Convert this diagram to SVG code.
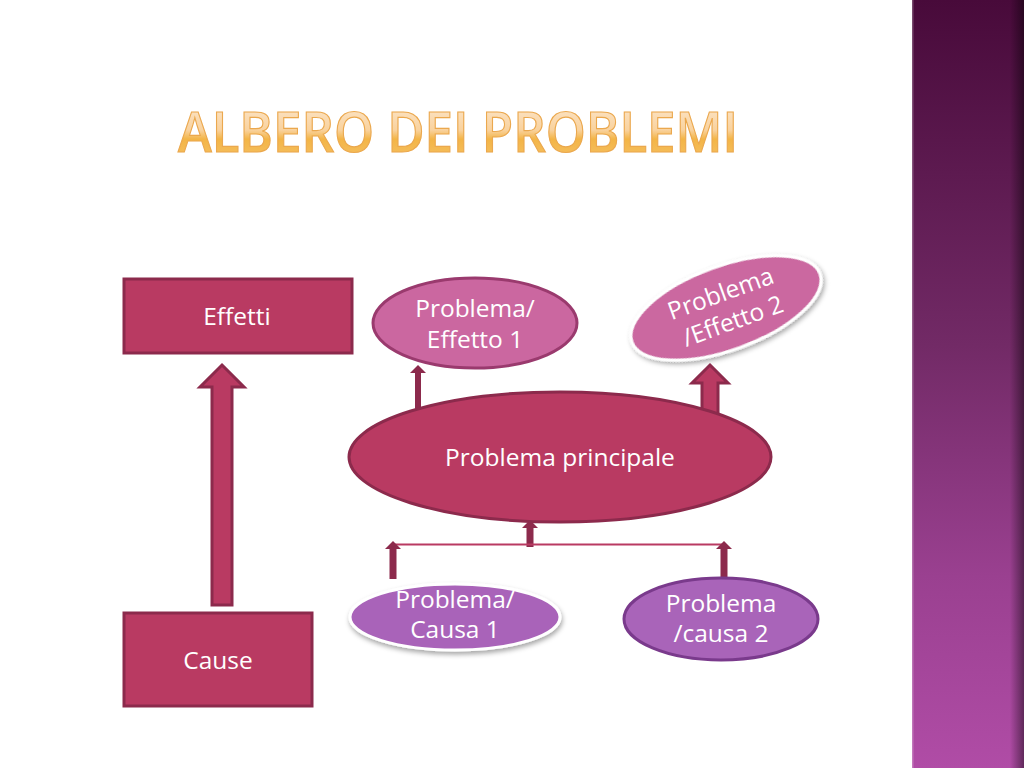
<svg xmlns="http://www.w3.org/2000/svg" width="1024" height="768" viewBox="0 0 1024 768">
<defs>
<linearGradient id="band" x1="0" y1="0" x2="0" y2="1">
<stop offset="0" stop-color="#480a3a"/>
<stop offset="0.45" stop-color="#722a66"/>
<stop offset="0.75" stop-color="#9a4090"/>
<stop offset="1" stop-color="#b04ca6"/>
</linearGradient>
<linearGradient id="bandEdge" x1="0" y1="0" x2="1" y2="0">
<stop offset="0" stop-color="#000" stop-opacity="0"/>
<stop offset="1" stop-color="#000" stop-opacity="0.45"/>
</linearGradient>
<linearGradient id="title" x1="0" y1="0" x2="0" y2="1">
<stop offset="0" stop-color="#fdeedc"/>
<stop offset="0.5" stop-color="#f9d29e"/>
<stop offset="0.62" stop-color="#f3b547"/>
<stop offset="1" stop-color="#f6c46c"/>
</linearGradient>
<filter id="shadow" x="-20%" y="-20%" width="140%" height="150%">
<feDropShadow dx="1" dy="3" stdDeviation="2.5" flood-color="#000" flood-opacity="0.35"/>
</filter>
</defs>
<style>
.red{fill:#b93a62;stroke:#8c2a4c;stroke-width:3}
.pink{fill:#cb67a0;stroke:#9a3a6e;stroke-width:3}
.pinkw{fill:#cb67a0;stroke:#ffffff;stroke-width:3}
.purp{fill:#a964b9;stroke:#7a3a8c;stroke-width:3}
.purpw{fill:#a964b9;stroke:#ffffff;stroke-width:3}
.dk{fill:#8c2a4c;stroke:none}
.lbl{font-family:"Open Sans","Liberation Sans",sans-serif;font-size:24.5px;fill:#ffffff;text-anchor:middle}
</style>
<rect width="1024" height="768" fill="#ffffff"/>
<g id="band-deco">
<rect x="912" y="0" width="112" height="768" fill="url(#band)"/>
<rect x="1010" y="0" width="14" height="768" fill="url(#bandEdge)"/>
<rect x="912" y="0" width="1.5" height="768" fill="#ffffff" fill-opacity="0.25"/>
</g>
<text x="178" y="152" textLength="560" lengthAdjust="spacingAndGlyphs" font-family="'Open Sans','Liberation Sans',sans-serif" font-weight="600" font-size="56" fill="url(#title)" stroke="#eba84e" stroke-width="1.2">ALBERO DEI PROBLEMI</text>
<g id="connectors">
<path class="red" d="M222 365 L244 387 L232 387 L232 605 L212 605 L212 387 L200 387 Z"/>
<path class="dk" d="M418 365 L426 373 L421 373 L421 418 L415 418 L415 373 L410 373 Z"/>
<path class="red" d="M710 365 L728 383 L718 383 L718 417 L702 417 L702 383 L692 383 Z"/>
<path class="dk" d="M530 520 L538 528 L533.5 528 L533.5 547 L526.5 547 L526.5 528 L522 528 Z"/>
<line x1="393" y1="544.5" x2="725" y2="544.5" stroke="#b93a62" stroke-width="2"/>
<path class="dk" d="M393 541 L401 549 L396.5 549 L396.5 579 L389.5 579 L389.5 549 L385 549 Z"/>
<path class="dk" d="M724 541 L732 549 L727.5 549 L727.5 578 L720.5 578 L720.5 549 L716 549 Z"/>
</g>
<g id="effetti">
<rect class="red" x="124" y="279" width="228" height="74"/>
<text class="lbl" x="237" y="325">Effetti</text>
</g>
<g id="cause">
<rect class="red" x="124" y="613" width="188" height="93"/>
<text class="lbl" x="218" y="669">Cause</text>
</g>
<g id="problema-principale">
<ellipse class="red" cx="560" cy="457" rx="211" ry="65" stroke-width="4"/>
<text class="lbl" x="560" y="466">Problema principale</text>
</g>
<g id="effetto1">
<ellipse class="pink" cx="475" cy="323" rx="102" ry="45"/>
<text class="lbl" x="475" y="317">Problema/</text>
<text class="lbl" x="475" y="348">Effetto 1</text>
</g>
<g id="effetto2">
<ellipse class="pinkw" cx="726" cy="308" rx="100" ry="42" transform="rotate(-20 726 308)" filter="url(#shadow)"/>
<g transform="rotate(-20 726 308)">
<text class="lbl" x="726" y="301">Problema</text>
<text class="lbl" x="728" y="331">/Effetto 2</text>
</g>
</g>
<g id="causa1">
<ellipse class="purpw" cx="455" cy="617" rx="105" ry="33" filter="url(#shadow)"/>
<text class="lbl" x="455" y="608">Problema/</text>
<text class="lbl" x="455" y="638">Causa 1</text>
</g>
<g id="causa2">
<ellipse class="purp" cx="721" cy="619" rx="97" ry="41"/>
<text class="lbl" x="721" y="612">Problema</text>
<text class="lbl" x="721" y="642">/causa 2</text>
</g>
</svg>
